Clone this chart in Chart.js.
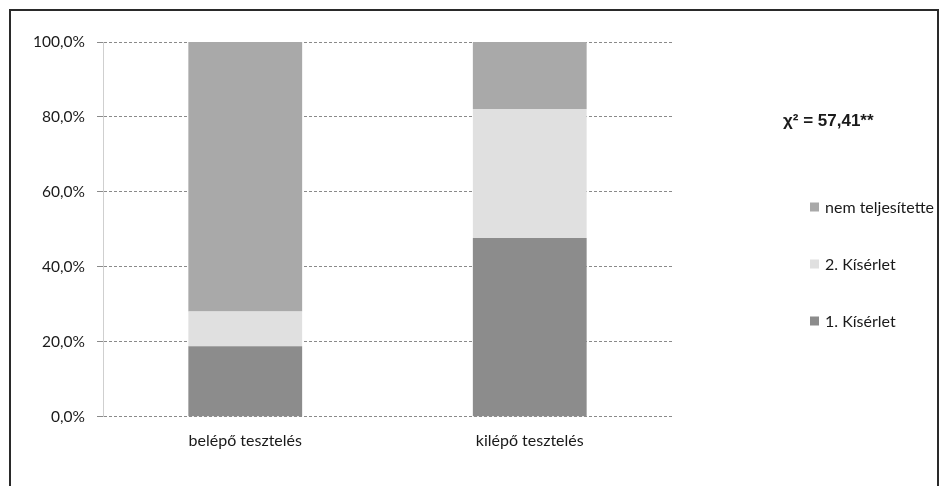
<!DOCTYPE html>
<html>
<head>
<meta charset="utf-8">
<script src="https://cdn.jsdelivr.net/npm/chart.js@4.4.0/dist/chart.umd.min.js"></script>
<style>
    html, body { margin: 0; padding: 0; background: #fff; overflow: hidden; }
    #wrap { position: relative; width: 946px; height: 486px; }
    #frame {
        position: absolute; left: 9px; top: 9px; width: 930px; height: 500px;
        border: 2px solid #2a2a2a; box-sizing: border-box;
    }
    #chart { position: absolute; left: 0; top: 0; }
</style>
</head>
<body>
<div id="wrap">
    <div id="frame"></div>
    <canvas id="chart" width="946" height="486"></canvas>
</div>
<script>
    "use strict";

    var categories = ["belépő tesztelés", "kilépő tesztelés"];
    var seriesNames = ["1. Kísérlet", "2. Kísérlet", "nem teljesítette"];
    var kiserlet1 = [18.8, 47.7];
    var kiserlet2 = [9.3, 34.4];
    var nemTeljesitette = [71.9, 17.9];
    var seriesColors = ["#8c8c8c", "#e0e0e0", "#a9a9a9"];
    var yTicks = [0, 20, 40, 60, 80, 100];
    var chiText = "χ² = 57,41**";

    var fontFamily = "Lato, 'Open Sans', sans-serif";

    // legend + chi square label, drawn on the right side
    var sideLegend = {
        id: "sideLegend",
        afterDraw: function (chart) {
            var ctx = chart.ctx;
            ctx.save();
            ctx.fillStyle = "#1a1a1a";
            ctx.font = "bold 17px 'Liberation Sans', Arial, sans-serif";
            ctx.textBaseline = "middle";
            ctx.textAlign = "left";
            ctx.fillText(chiText, 783, 121);

            ctx.font = "16px " + fontFamily;
            var sets = chart.data.datasets;
            for (var i = sets.length - 1, row = 0; i >= 0; i--, row++) {
                var y = 207 + row * 57;
                ctx.fillStyle = sets[i].backgroundColor;
                ctx.fillRect(810, y - 4.5, 9, 9);
                ctx.fillStyle = "#1a1a1a";
                ctx.fillText(sets[i].label, 825, y + 1);
            }
            ctx.restore();
        },
    };

    var ctx1 = document.getElementById("chart").getContext("2d");
    var myChart = new Chart(ctx1, {
        type: "bar",
        data: {
            labels: categories,
            datasets: [
                { label: seriesNames[0], data: kiserlet1, backgroundColor: seriesColors[0] },
                { label: seriesNames[1], data: kiserlet2, backgroundColor: seriesColors[1] },
                { label: seriesNames[2], data: nemTeljesitette, backgroundColor: seriesColors[2] },
            ],
        },
        options: {
            responsive: false,
            animation: false,
            categoryPercentage: 1,
            barPercentage: 0.4,
            layout: { padding: { top: 42, right: 274, bottom: 30, left: 0 } },
            plugins: {
                legend: { display: false },
                tooltip: { enabled: false },
            },
            scales: {
                x: {
                    stacked: true,
                    grid: { display: false },
                    border: { display: false },
                    ticks: {
                        color: "#1a1a1a",
                        font: { family: fontFamily, size: 16 },
                        padding: 6,
                    },
                },
                y: {
                    stacked: true,
                    min: 0,
                    max: 100,
                    afterFit: function (scale) {
                        scale.width = 103;
                    },
                    afterBuildTicks: function (scale) {
                        scale.ticks = yTicks.map(function (v) {
                            return { value: v };
                        });
                    },
                    grid: {
                        color: "#8a8a8a",
                        lineWidth: 1,
                        tickLength: 6,
                        tickColor: "#8a8a8a",
                    },
                    border: { color: "#cfcfcf", dash: [3, 2] },
                    ticks: {
                        color: "#1a1a1a",
                        font: { family: fontFamily, size: 15.5 },
                        padding: 12,
                        callback: function (v) {
                            return v.toFixed(1).replace(".", ",") + "%";
                        },
                    },
                },
            },
        },
        plugins: [sideLegend],
    });
</script>
</body>
</html>
